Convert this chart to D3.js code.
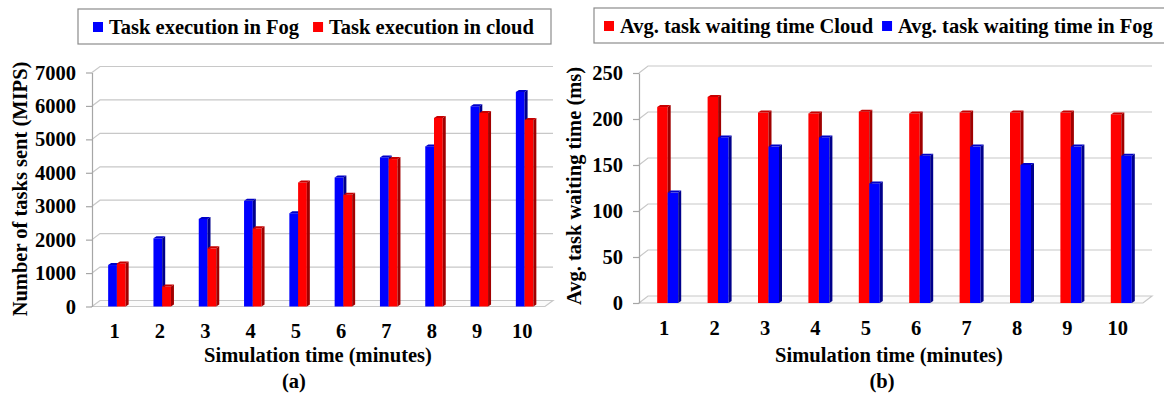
<!DOCTYPE html>
<html><head><meta charset="utf-8">
<script src="https://cdn.jsdelivr.net/npm/d3@7"></script>
<style>
html,body{margin:0;padding:0;background:#fff;}
svg{display:block;}
svg text{font-family:'Liberation Serif','Times New Roman',Times,'DejaVu Serif',serif;font-weight:700;fill:#000;}
</style></head>
<body>
<svg id="c" width="1164" height="394"></svg>
<script>
// ---- data ----
const minutes = ["1","2","3","4","5","6","7","8","9","10"];
const fogTasks   = [1240, 2040, 2620, 3160, 2790, 3860, 4460, 4790, 5990, 6420];
const cloudTasks = [1290,  600, 1740, 2340, 3710, 3340, 4410, 5640, 5790, 5580];
const ticksA = [0,1000,2000,3000,4000,5000,6000,7000];
const cloudWait = [213, 224, 207, 206, 208, 206, 207, 207, 207, 205];
const fogWait   = [120, 180, 170, 180, 130, 160, 170, 150, 170, 160];
const ticksB = [0,50,100,150,200,250];
const legendA = ["Task execution in Fog","Task execution in cloud"];
const legendB = ["Avg. task waiting time Cloud","Avg. task waiting time in Fog"];

const FONT = "'Liberation Serif','Times New Roman',Times,'DejaVu Serif',serif";
const svg = d3.select("#c");
const BLUE = {face:"#0000ff", side:"#00008c", top:"#0000c8"};
const RED  = {face:"#ff0000", side:"#a00000", top:"#c80000"};

function txt(sel){ return sel.attr("font-family",FONT).attr("font-weight","bold").attr("fill","#000"); }

function chart(cfg){
  const g = svg.append("g");
  const x = d3.scaleBand().domain(minutes).range([cfg.x0, cfg.x1]);
  const y = d3.scaleLinear().domain([0, cfg.max]).range([cfg.y0, cfg.yTop]);
  const dx = cfg.dx, dy = cfg.dy;
  cfg.ticks.forEach(t=>{
    if(t===0) return;
    g.append("path").attr("fill","none").attr("stroke","#c8c8c8").attr("stroke-width",1.2)
      .attr("d", d3.line()([[cfg.x0, y(t)],[cfg.x0+dx, y(t)-dy],[cfg.x1+dx, y(t)-dy]]));
  });
  g.append("path").attr("fill","#fbfbfb").attr("stroke","#c8c8c8").attr("stroke-width",1.2)
    .attr("d", d3.line()([[cfg.x0,y(0)],[cfg.x0+dx,y(0)-dy],[cfg.x1+dx,y(0)-dy],[cfg.x1,y(0)]])+"Z");
  const ax = g.append("g").attr("transform",`translate(${cfg.x0},0)`)
    .call(d3.axisLeft(y).tickValues(cfg.ticks).tickSize(6).tickPadding(10).tickSizeOuter(0).tickFormat(d3.format("d")));
  ax.attr("font-family",FONT).attr("font-size",20.5);
  ax.select(".domain").attr("stroke","#a6a6a6").attr("stroke-width",1.2);
  ax.selectAll(".tick line").attr("stroke","#a6a6a6").attr("stroke-width",1.2);
  txt(ax.selectAll(".tick text")).attr("font-size",20.5);
  const x1 = d3.scaleBand().domain(d3.range(cfg.series.length)).range(cfg.inner);
  const sd = 3, sdy = 2;
  minutes.forEach((m,i)=>{
    const c = x(m) + x.bandwidth()/2;
    cfg.series.forEach((s,k)=>{
      const bx = c + x1(k), w = x1.bandwidth();
      const yt = y(s.values[i]), yb = y(0);
      const bg = g.append("g");
      bg.append("rect").attr("x",bx).attr("y",yt).attr("width",w).attr("height",yb-yt).attr("fill",s.col.face);
      bg.append("path").attr("fill",s.col.side)
        .attr("d", d3.line()([[bx+w,yt],[bx+w+sd,yt-sdy],[bx+w+sd,yb-sdy],[bx+w,yb]])+"Z");
      bg.append("path").attr("fill",s.col.top)
        .attr("d", d3.line()([[bx,yt],[bx+sd,yt-sdy],[bx+w+sd,yt-sdy],[bx+w,yt]])+"Z");
    });
  });
  txt(g.selectAll(".xl").data(minutes).enter().append("text"))
    .attr("x", d=>x(d)+x.bandwidth()/2).attr("y", cfg.xlY)
    .attr("text-anchor","middle").attr("font-size",20.5).text(d=>d);
  txt(g.append("text")).attr("x",cfg.titleX).attr("y",362).attr("text-anchor","middle")
    .attr("font-size",20.5).text("Simulation time (minutes)");
  txt(g.append("text")).attr("x",cfg.subX).attr("y",388).attr("text-anchor","middle")
    .attr("font-size",20.5).text(cfg.sub);
  txt(g.append("text")).attr("transform",`translate(${cfg.ytX},${cfg.ytY}) rotate(-90)`)
    .attr("text-anchor","middle").attr("font-size",20.5).text(cfg.ytitle);
  const lg = svg.append("g");
  lg.append("rect").attr("x",cfg.lg.x).attr("y",cfg.lg.y).attr("width",cfg.lg.w).attr("height",cfg.lg.h)
    .attr("fill","#fff").attr("stroke","#8c8c8c").attr("stroke-width",1.2);
  let lx = cfg.lg.x + cfg.lg.pad;
  cfg.series.forEach((s)=>{
    lg.append("rect").attr("x",lx).attr("y",cfg.lg.y+13).attr("width",10).attr("height",10).attr("fill",s.col.face);
    const t = txt(lg.append("text")).attr("x",lx+16).attr("y",cfg.lg.y+25).attr("font-size",cfg.lg.fs).text(s.name);
    lx += 16 + t.node().getComputedTextLength() + cfg.lg.gap;
  });
}

chart({
  x0:92, x1:545, y0:306.5, yTop:72.5, max:7000, ticks:ticksA, dx:8, dy:6,
  inner:[-6.5, 11],
  series:[{name:legendA[0], values:fogTasks, col:BLUE},{name:legendA[1], values:cloudTasks, col:RED}],
  xlY:338, titleX:318, subX:294, sub:"(a)",
  ytitle:"Number of tasks sent (MIPS)", ytX:27, ytY:189,
  lg:{x:78,y:9,w:473,h:35,pad:15,gap:14,fs:20.5}
});
chart({
  x0:639, x1:1143, y0:303, yTop:73, max:250, ticks:ticksB, dx:9, dy:7,
  inner:[-7, 14],
  series:[{name:legendB[0], values:cloudWait, col:RED},{name:legendB[1], values:fogWait, col:BLUE}],
  xlY:335, titleX:889, subX:882, sub:"(b)",
  ytitle:"Avg. task waiting time (ms)", ytX:581, ytY:186,
  lg:{x:594,y:8,w:575,h:35,pad:10,gap:9,fs:20.5}
});
</script>
</body></html>
